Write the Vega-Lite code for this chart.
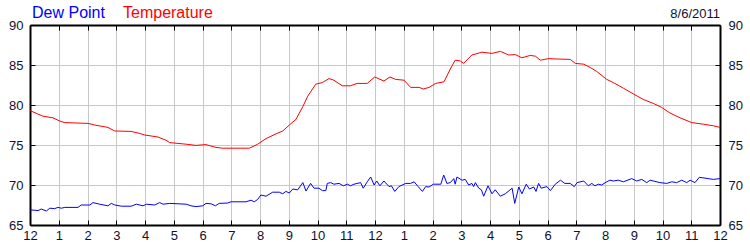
{
  "$schema": "https://vega.github.io/schema/vega-lite/v6.json",
  "width": 690,
  "height": 200,
  "autosize": "none",
  "padding": {"left": 30, "top": 25, "right": 30, "bottom": 25},
  "background": "white",
  "config": {"font": "Liberation Sans", "view": {"stroke": null}},
  "title": {"text": "8/6/2011", "anchor": "end", "frame": "group", "fontSize": 13, "fontWeight": "normal", "font": "Liberation Sans", "color": "#101030", "offset": 4, "dy": 20},
  "datasets": {
    "temp": [
      {"h":0,"v":79.3},{"h":0.45,"v":78.6},{"h":0.8,"v":78.4},{"h":1.03,"v":78.0},{"h":1.21,"v":77.8},{"h":2.02,"v":77.7},{"h":2.25,"v":77.5},{"h":2.71,"v":77.2},{"h":2.95,"v":76.75},{"h":3.51,"v":76.7},{"h":3.76,"v":76.5},{"h":3.99,"v":76.25},{"h":4.45,"v":76.0},{"h":4.73,"v":75.6},{"h":4.86,"v":75.3},{"h":5.43,"v":75.1},{"h":5.77,"v":74.95},{"h":6.12,"v":75.05},{"h":6.47,"v":74.7},{"h":6.7,"v":74.6},{"h":7.63,"v":74.6},{"h":7.92,"v":75.1},{"h":8.21,"v":75.8},{"h":8.56,"v":76.4},{"h":8.79,"v":76.75},{"h":9.02,"v":77.5},{"h":9.25,"v":78.2},{"h":9.49,"v":79.8},{"h":9.66,"v":81.1},{"h":9.94,"v":82.6},{"h":10.17,"v":82.8},{"h":10.4,"v":83.3},{"h":10.57,"v":83.1},{"h":10.86,"v":82.4},{"h":11.15,"v":82.4},{"h":11.38,"v":82.7},{"h":11.73,"v":82.7},{"h":11.99,"v":83.5},{"h":12.31,"v":83.0},{"h":12.52,"v":83.5},{"h":12.72,"v":83.2},{"h":13.01,"v":83.1},{"h":13.24,"v":82.2},{"h":13.53,"v":82.2},{"h":13.68,"v":82.0},{"h":13.88,"v":82.2},{"h":14.11,"v":82.7},{"h":14.4,"v":82.9},{"h":14.62,"v":84.5},{"h":14.79,"v":85.6},{"h":14.97,"v":85.5},{"h":15.08,"v":85.2},{"h":15.37,"v":86.25},{"h":15.72,"v":86.6},{"h":16.07,"v":86.45},{"h":16.36,"v":86.7},{"h":16.65,"v":86.25},{"h":16.88,"v":86.3},{"h":17.11,"v":85.9},{"h":17.4,"v":86.2},{"h":17.58,"v":86.1},{"h":17.75,"v":85.6},{"h":18.04,"v":85.8},{"h":18.33,"v":85.75},{"h":18.79,"v":85.7},{"h":18.97,"v":85.2},{"h":19.26,"v":85.1},{"h":19.48,"v":84.7},{"h":19.71,"v":84.2},{"h":20.06,"v":83.2},{"h":20.29,"v":82.8},{"h":20.64,"v":82.1},{"h":20.98,"v":81.4},{"h":21.33,"v":80.7},{"h":21.68,"v":80.2},{"h":21.97,"v":79.7},{"h":22.26,"v":79.0},{"h":22.61,"v":78.4},{"h":23.02,"v":77.8},{"h":23.42,"v":77.6},{"h":23.77,"v":77.4},{"h":24,"v":77.2}
    ],
    "dew": [
      {"h":0,"v":66.9},{"h":0.28,"v":66.8},{"h":0.39,"v":67.0},{"h":0.57,"v":66.75},{"h":0.69,"v":67.1},{"h":0.86,"v":67.05},{"h":0.97,"v":67.2},{"h":1.09,"v":67.1},{"h":1.21,"v":67.2},{"h":1.67,"v":67.2},{"h":1.78,"v":67.5},{"h":2.08,"v":67.5},{"h":2.19,"v":67.8},{"h":2.42,"v":67.6},{"h":2.71,"v":67.4},{"h":2.83,"v":67.7},{"h":2.95,"v":67.5},{"h":3.18,"v":67.35},{"h":3.52,"v":67.35},{"h":3.7,"v":67.6},{"h":3.93,"v":67.4},{"h":4.05,"v":67.6},{"h":4.34,"v":67.5},{"h":4.51,"v":67.8},{"h":4.63,"v":67.6},{"h":4.86,"v":67.7},{"h":5.43,"v":67.6},{"h":5.6,"v":67.4},{"h":5.77,"v":67.3},{"h":6.01,"v":67.4},{"h":6.12,"v":67.7},{"h":6.3,"v":67.65},{"h":6.45,"v":67.4},{"h":6.58,"v":67.7},{"h":6.88,"v":67.75},{"h":6.99,"v":67.9},{"h":7.51,"v":67.9},{"h":7.69,"v":68.1},{"h":7.8,"v":67.9},{"h":7.92,"v":68.2},{"h":8.03,"v":68.75},{"h":8.21,"v":68.6},{"h":8.44,"v":69.1},{"h":8.67,"v":69.1},{"h":8.79,"v":68.9},{"h":8.9,"v":69.2},{"h":9.02,"v":69.0},{"h":9.14,"v":69.5},{"h":9.31,"v":69.4},{"h":9.49,"v":70.3},{"h":9.6,"v":69.25},{"h":9.76,"v":70.2},{"h":9.88,"v":69.6},{"h":10.05,"v":69.6},{"h":10.17,"v":69.3},{"h":10.29,"v":69.3},{"h":10.34,"v":70.2},{"h":10.46,"v":70.3},{"h":10.57,"v":70.1},{"h":10.75,"v":70.2},{"h":10.9,"v":69.9},{"h":11.04,"v":70.1},{"h":11.15,"v":69.9},{"h":11.27,"v":70.1},{"h":11.5,"v":70.3},{"h":11.59,"v":69.6},{"h":11.73,"v":70.4},{"h":11.85,"v":71.0},{"h":11.97,"v":70.0},{"h":12.06,"v":70.5},{"h":12.17,"v":69.9},{"h":12.31,"v":70.5},{"h":12.49,"v":69.8},{"h":12.57,"v":69.9},{"h":12.69,"v":69.2},{"h":12.83,"v":69.8},{"h":13.07,"v":70.2},{"h":13.24,"v":70.2},{"h":13.36,"v":70.4},{"h":13.5,"v":69.8},{"h":13.65,"v":69.2},{"h":13.76,"v":69.8},{"h":13.88,"v":69.75},{"h":14.03,"v":70.1},{"h":14.29,"v":70.1},{"h":14.39,"v":71.25},{"h":14.5,"v":70.2},{"h":14.62,"v":70.3},{"h":14.74,"v":70.8},{"h":14.79,"v":70.1},{"h":14.85,"v":71.0},{"h":15.03,"v":70.6},{"h":15.14,"v":70.7},{"h":15.26,"v":70.0},{"h":15.37,"v":70.2},{"h":15.43,"v":69.8},{"h":15.49,"v":70.3},{"h":15.61,"v":69.6},{"h":15.7,"v":69.4},{"h":15.78,"v":68.6},{"h":15.93,"v":69.9},{"h":16.07,"v":68.9},{"h":16.18,"v":69.4},{"h":16.36,"v":68.6},{"h":16.53,"v":68.9},{"h":16.77,"v":69.6},{"h":16.86,"v":67.7},{"h":17.0,"v":69.75},{"h":17.11,"v":68.9},{"h":17.26,"v":70.1},{"h":17.37,"v":69.5},{"h":17.52,"v":69.75},{"h":17.6,"v":69.2},{"h":17.69,"v":70.2},{"h":17.78,"v":69.6},{"h":17.98,"v":69.8},{"h":18.1,"v":69.3},{"h":18.27,"v":70.1},{"h":18.45,"v":70.6},{"h":18.6,"v":70.2},{"h":18.79,"v":70.2},{"h":18.93,"v":69.8},{"h":19.03,"v":70.3},{"h":19.26,"v":70.5},{"h":19.42,"v":69.9},{"h":19.54,"v":70.2},{"h":19.65,"v":69.9},{"h":19.77,"v":70.1},{"h":19.88,"v":70.0},{"h":20.06,"v":70.4},{"h":20.17,"v":70.6},{"h":20.29,"v":70.5},{"h":20.46,"v":70.6},{"h":20.64,"v":70.4},{"h":20.93,"v":70.8},{"h":21.1,"v":70.5},{"h":21.28,"v":70.7},{"h":21.45,"v":70.3},{"h":21.57,"v":70.6},{"h":21.74,"v":70.45},{"h":21.91,"v":70.3},{"h":22.15,"v":70.2},{"h":22.32,"v":70.4},{"h":22.49,"v":70.3},{"h":22.67,"v":70.6},{"h":22.84,"v":70.3},{"h":22.96,"v":70.6},{"h":23.13,"v":70.3},{"h":23.28,"v":70.96},{"h":23.59,"v":70.8},{"h":23.77,"v":70.7},{"h":24,"v":70.8}
    ]
  },
  "layer": [
    {
      "data": {"name": "dew"},
      "transform": [{"calculate": "'Dew Point'", "as": "series"}],
      "mark": {"type": "line", "strokeWidth": 1, "interpolate": "linear"},
      "encoding": {
        "x": {"field": "h", "type": "quantitative",
          "scale": {"domain": [0, 24], "nice": false, "zero": false},
          "axis": {"orient": "bottom", "values": [0,1,2,3,4,5,6,7,8,9,10,11,12,13,14,15,16,17,18,19,20,21,22,23,24],
            "labelExpr": "datum.value % 12 == 0 ? '12' : '' + (datum.value % 12)",
            "title": null, "grid": true, "gridColor": "#c8c8c8", "gridWidth": 1,
            "domain": true, "domainColor": "#000", "domainWidth": 2,
            "ticks": true, "tickColor": "#000", "tickSize": -5, "tickWidth": 1,
            "labelFontSize": 13, "labelColor": "#101030", "labelPadding": 9, "labelFlush": false, "labelOverlap": false}},
        "y": {"field": "v", "type": "quantitative",
          "scale": {"domain": [65, 90], "nice": false, "zero": false},
          "axis": {"orient": "left", "values": [65,70,75,80,85,90], "title": null,
            "grid": true, "gridColor": "#c8c8c8", "gridWidth": 1,
            "domain": true, "domainColor": "#000", "domainWidth": 2,
            "ticks": true, "tickColor": "#000", "tickSize": -5, "tickWidth": 1,
            "labelFontSize": 13, "labelColor": "#101030", "labelPadding": 12, "labelFlush": false}},
        "color": {"field": "series", "type": "nominal",
          "scale": {"domain": ["Dew Point", "Temperature"], "range": ["#0000ff", "#ff0000"]},
          "legend": {"orient": "none", "legendX": -14, "legendY": -20, "direction": "horizontal", "title": null,
            "symbolOpacity": 0, "symbolSize": 0, "symbolStrokeWidth": 0, "labelOffset": 0, "columnPadding": 2,
            "labelFontSize": 16, "labelFont": "Liberation Sans",
            "encode": {"labels": {"update": {"fill": {"signal": "datum.value === 'Dew Point' ? '#0000ff' : '#ff0000'"}}}}}}
      }
    },
    {
      "data": {"name": "temp"},
      "transform": [{"calculate": "'Temperature'", "as": "series"}],
      "mark": {"type": "line", "strokeWidth": 1, "interpolate": "linear"},
      "encoding": {
        "x": {"field": "h", "type": "quantitative",
          "axis": {"orient": "top", "values": [0,1,2,3,4,5,6,7,8,9,10,11,12,13,14,15,16,17,18,19,20,21,22,23,24],
            "labels": false, "title": null, "grid": false,
            "domain": true, "domainColor": "#000", "domainWidth": 2,
            "ticks": true, "tickColor": "#000", "tickSize": -5, "tickWidth": 1}},
        "y": {"field": "v", "type": "quantitative",
          "axis": {"orient": "right", "values": [65,70,75,80,85,90], "title": null, "grid": false,
            "domain": true, "domainColor": "#000", "domainWidth": 2,
            "ticks": true, "tickColor": "#000", "tickSize": -5, "tickWidth": 1,
            "labelFontSize": 13, "labelColor": "#101030", "labelPadding": 13, "labelFlush": false}},
        "color": {"field": "series", "type": "nominal"}
      }
    }
  ]
}
